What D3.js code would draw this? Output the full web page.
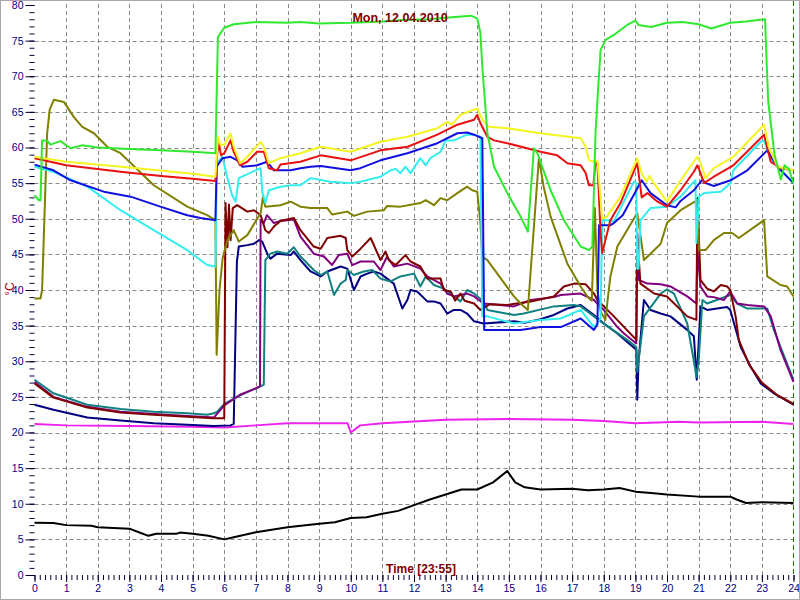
<!DOCTYPE html>
<html>
<head>
<meta charset="utf-8">
<script src="https://cdn.jsdelivr.net/npm/d3@7"></script>
<style>
  html, body { margin: 0; padding: 0; background: #ffffff; }
  svg { display: block; font-family: Arial, "Liberation Sans", sans-serif; }
</style>
</head>
<body>
<svg id="chart" width="800" height="600"></svg>
<script>
// ---------- DATA (hour, °C) ----------
const titleText = "Mon, 12.04.2010";
const xLabelText = "Time [23:55]";
const yLabelText = "°C";
const hourTicks = d3.range(0, 25);
const tempTicks = d3.range(0, 81, 5);

const outdoor = [[0,7.35],[0.6,7.3],[1,7.0],[1.8,6.9],[2,6.7],[2.5,6.6],[3,6.5],[3.3,6.0],[3.6,5.5],[3.85,5.8],[4.5,5.8],[4.6,5.95],[5,5.8],[5.5,5.5],[6,5.0],[6.3,5.3],[7,6.0],[8,6.7],[9,7.2],[9.5,7.4],[10,8.0],[10.5,8.1],[11,8.6],[11.5,9.0],[12,9.8],[12.5,10.6],[13,11.3],[13.5,12.0],[14,12.0],[14.5,13.0],[14.95,14.6],[15.2,13.0],[15.5,12.3],[16,12.0],[17,12.1],[17.5,11.9],[18,12.0],[18.5,12.2],[19,11.7],[19.5,11.5],[20,11.3],[21,11.0],[22,11.0],[22.2,10.6],[22.5,10.1],[23,10.2],[24,10.1]];

const room = [[0,21.2],[1,21.0],[3,20.9],[5,20.8],[6,20.7],[7,21.0],[8,21.3],[9.9,21.3],[10,20.0],[10.3,21.0],[11,21.3],[13,21.8],[15,21.9],[17,21.8],[18,21.6],[19,21.3],[20.4,21.5],[21,21.4],[23,21.5],[24,21.2]];

const boiler = [[0,53.3],[0.14,52.6],[0.19,52.6],[0.24,61],[0.4,61],[0.5,60.4],[0.82,60.9],[1.14,59.9],[1.5,60.3],[2,60.0],[3,59.8],[4,59.6],[5,59.4],[5.72,59.2],[5.8,75.5],[6.0,76.8],[6.3,77.3],[7,77.6],[8,77.5],[8.4,77.6],[9,77.4],[10,77.5],[11,77.7],[11.6,77.9],[12.5,78],[13,78.2],[13.8,78.5],[14.0,78.1],[14.1,76.1],[14.16,71.3],[14.32,62],[14.53,57.3],[14.95,53.6],[15.37,50.3],[15.6,48.2],[15.79,59.9],[15.9,59.2],[16.32,54],[16.74,49.8],[17.27,46.1],[17.53,45.6],[17.64,46.1],[17.74,62],[17.8,66.7],[17.9,73.7],[18.06,75.1],[18.32,75.8],[18.74,77.2],[19.0,77.8],[19.1,77.2],[19.5,76.9],[20,77.5],[20.5,77.6],[21,77.3],[21.4,76.7],[22,77.5],[22.5,77.7],[23.1,78],[23.15,72],[23.2,66.5],[23.4,59],[23.6,55.5],[23.72,57.5],[23.85,57],[24,55]];

const flowYellow = [[0,58.7],[1,58.0],[3,57.2],[5,56.3],[5.72,55.9],[5.8,61.5],[5.88,60.4],[6.0,60.4],[6.2,62],[6.3,60.1],[6.5,57.8],[6.73,58.7],[7.15,60.8],[7.25,60.1],[7.41,57.8],[7.78,58.5],[8.41,59.2],[9.05,60.1],[10,59.4],[10.94,60.8],[11.79,61.5],[12.74,62.7],[13.05,63.6],[13.2,63.2],[13.47,64.6],[14.0,65.5],[14.16,63.9],[14.37,62.9],[14.95,62.7],[16,62],[17.27,61.3],[17.43,60.1],[17.53,58.2],[17.69,58],[17.8,58.2],[17.95,50],[18.1,50.3],[18.53,53.1],[19.06,58.5],[19.2,56.4],[19.35,55.2],[19.45,56],[19.55,55.2],[20,52.4],[20.43,55.4],[20.96,58.7],[21.06,57.8],[21.22,55.7],[21.48,57.1],[22.1,58.7],[23.07,63.2],[23.22,60.1],[23.49,57.3],[24,56.8]];

const flowRed = [[0,58.5],[1,57.5],[2.72,56.6],[4,56],[5,55.6],[5.72,55.3],[5.78,59.2],[5.83,60.6],[5.9,58.9],[6.0,59.2],[6.2,61],[6.3,59.4],[6.5,57.5],[6.73,58],[7.04,59.4],[7.25,59.4],[7.41,57.1],[7.67,56.8],[7.78,57.6],[8.41,58],[9.05,58.9],[10,58.2],[10.94,59.6],[11.8,60.1],[12.74,61.8],[13.37,63.2],[13.9,63.9],[14.0,64.6],[14.1,63.4],[14.32,61.5],[14.53,61],[14.95,60.6],[16,59.4],[16.53,58.9],[16.85,57.8],[17.27,57.5],[17.43,56.4],[17.53,54.7],[17.67,54.7],[17.74,57.8],[17.8,57.8],[17.9,48],[17.95,45.2],[18.21,49.8],[18.53,52.2],[19.06,57.8],[19.2,53],[19.38,53.6],[19.7,52.4],[20.0,51.7],[20.43,54],[20.85,56.6],[20.96,57.5],[21.06,56.4],[21.17,55],[21.48,55.9],[22.1,57.5],[23.07,61.8],[23.28,58],[23.59,57.1],[24,56.8]];

const flowBlue = [[0,57.6],[0.6,56.8],[1.14,55.4],[2.19,53.8],[3.04,53.1],[3.98,51.7],[4.83,50.5],[5.25,50.1],[5.72,49.8],[5.76,57.3],[5.94,58.5],[6.2,58.7],[6.41,58.2],[6.57,57.3],[7.04,57.5],[7.36,58],[7.57,56.8],[8.1,56.8],[8.41,57.1],[8.73,57.3],[9.05,57.4],[10,56.8],[10.3,57.1],[10.94,58.2],[11.79,59.2],[12.74,60.6],[13.37,62],[13.68,62.1],[13.9,61.8],[14.16,61.3],[14.22,34.4],[14.32,34.4],[15.37,34.4],[16,34.8],[16.64,34.8],[17.27,36],[17.69,34.4],[17.8,35.2],[17.85,49.1],[18.21,49.1],[18.32,49.4],[18.6,50.5],[19.2,55.4],[19.48,53.6],[20,51.9],[20.27,51.6],[20.43,52.5],[20.85,54],[21.12,55.5],[21.22,55],[21.48,54.6],[22.01,55.4],[22.54,56.8],[23.17,59.6],[23.49,57.3],[24,55]];

const flowCyan = [[0,57.3],[0.6,56.6],[1.67,54.5],[2.72,51.2],[3.77,48.4],[4.83,45.6],[5.46,43.5],[5.72,43.3],[5.77,57.8],[5.94,58.7],[6.09,55.9],[6.25,53.3],[6.36,52.4],[6.46,55.7],[7.15,57.1],[7.2,53.8],[7.3,52.2],[7.41,54],[7.78,54.5],[8.1,54.7],[8.41,54.7],[8.73,55.7],[9.36,55.2],[10,55],[10.3,55.2],[10.94,55.9],[11.26,56.8],[11.42,57],[11.57,56.4],[11.73,57.3],[11.89,56.4],[12.2,58.5],[12.37,57.5],[12.52,58.5],[12.84,59.4],[13.0,61],[13.26,61],[13.68,61.8],[13.9,61.8],[14.1,61.5],[14.16,36.3],[14.32,36.3],[15.16,35.3],[15.5,35.5],[16,35.8],[16.64,36],[17.27,37.2],[17.69,34.8],[17.9,36],[17.95,49.8],[18.1,49.8],[18.32,49.6],[18.95,55.2],[19.03,55],[19.06,43],[19.1,43],[19.16,49.8],[19.48,51.5],[20,51.7],[20.43,53.1],[20.85,55.2],[20.9,55.4],[20.93,46.6],[21.01,53.1],[21.17,53.6],[21.7,53.8],[22.01,55],[22.1,56.8],[22.96,60.8],[23.07,61],[23.28,58.5],[23.6,56.8],[24,55]];

const flowOlive = [[0,38.8],[0.19,38.8],[0.24,40],[0.4,62],[0.48,65.3],[0.61,66.7],[0.93,66.4],[1.24,64.3],[1.51,62.9],[1.88,62],[2.3,60.1],[2.72,59.2],[3.77,54.7],[4.83,51.7],[5.46,50.5],[5.72,49.8],[5.76,30.9],[5.85,40],[5.95,44.5],[6.1,47],[6.3,48.4],[6.46,46.8],[6.73,47.7],[7.15,50.8],[7.22,53],[7.3,51.7],[7.78,51.9],[8.1,52.4],[8.41,51.7],[8.73,51.5],[9.26,51.5],[9.41,50.6],[9.89,51],[10.1,50.4],[10.52,51],[11.05,51.2],[11.15,51.8],[11.57,51.7],[12.2,52.2],[12.37,52.6],[12.63,51.9],[12.84,52.9],[13.05,52.6],[13.37,53.6],[13.68,54.5],[13.84,54],[14.0,53.8],[14.1,49.4],[14.16,44.7],[14.32,44.2],[15.16,39.1],[15.37,38.1],[15.6,37.2],[15.95,58.5],[16.1,54.5],[16.32,50.3],[16.85,43.7],[17.27,40.5],[17.48,39.1],[17.62,38.5],[17.72,51.5],[17.8,40],[17.9,37],[18.05,35.8],[18.21,41.9],[18.43,46.1],[19.06,50.8],[19.15,48],[19.27,44.2],[19.48,45.1],[19.8,46.5],[20.0,49.4],[20.43,51.2],[20.96,52.6],[21.01,45.6],[21.22,45.6],[21.48,47],[21.8,48],[22.06,48],[22.27,47.3],[23.07,49.8],[23.17,41.9],[23.59,40.7],[23.8,40.5],[24,39.1]];

const returnMaroon = [[0,26.9],[0.6,24.9],[1.67,23.5],[2.72,22.8],[3.77,22.5],[4.83,22.2],[5.67,22.0],[6.0,22.0],[6.04,52.2],[6.1,46],[6.15,52],[6.2,47],[6.27,51.5],[6.41,51.9],[6.73,51],[6.94,51.2],[7.15,50.5],[7.3,48.4],[7.41,48],[7.57,48.9],[7.78,49.7],[8.2,50.1],[8.41,48.4],[8.83,46.1],[9.05,45.8],[9.26,47.3],[9.68,47.6],[9.84,47.3],[9.89,45.6],[10.05,44.7],[10.31,45.8],[10.63,47.3],[10.94,44.2],[11.1,45.4],[11.2,44.2],[11.42,43.5],[11.73,44.9],[11.89,44],[12.2,43.3],[12.42,41.6],[12.84,41.6],[12.94,40],[13.16,39.8],[13.3,38.5],[13.47,39.5],[13.6,38.5],[13.9,38.1],[14.1,37.2],[14.4,38],[14.95,37.9],[15.69,38.4],[16.42,39.1],[16.74,40.5],[17.06,40.9],[17.43,40.8],[17.69,39.5],[17.8,38.6],[18.32,36.3],[19.03,33],[19.06,47.5],[19.16,40.9],[19.59,39.5],[20,39.1],[20.64,36.3],[20.93,35.8],[20.96,52.9],[21.06,41.4],[21.27,40.2],[21.48,39.8],[21.7,40.7],[21.9,40.5],[22.0,40],[22.17,36.3],[22.27,33],[22.6,29.5],[23,27],[23.5,25.2],[24,24]];

const returnPurple = [[0,27.1],[0.6,25],[1.67,23.6],[2.72,22.9],[3.77,22.6],[4.83,22.3],[5.67,22.1],[6.0,23.8],[6.5,25.3],[7.0,26.2],[7.13,26.5],[7.15,49.8],[7.25,49.4],[7.35,50.5],[7.57,49.4],[7.78,49.7],[8.2,49.9],[8.41,47.5],[8.83,45.1],[9.15,44.7],[9.41,43.5],[9.62,44.9],[9.89,45.1],[10.05,43.5],[10.31,44],[10.73,44],[10.94,42.8],[11.15,44.7],[11.36,43.3],[11.79,43.7],[12.2,43],[12.42,41.9],[12.84,40.9],[13.05,39.5],[13.26,39.1],[13.68,39.5],[13.9,39.1],[14.2,38.1],[15.16,37.7],[15.69,38.6],[16.42,39],[16.64,39.3],[17.27,39.5],[17.69,38.6],[18.0,37.2],[18.43,34.8],[18.64,33.9],[19.03,32.5],[19.06,48],[19.11,41.4],[19.38,40.9],[19.8,40.8],[20.11,40.5],[20.64,39.1],[20.93,38.1],[20.96,45.6],[21.06,40.5],[21.27,39.1],[21.48,39],[21.8,38.6],[22.0,39.8],[22.22,38.1],[22.54,37.9],[23.07,37.7],[23.28,36.3],[23.59,31.6],[24,27.1]];

const returnTeal = [[0,27.4],[0.6,25.5],[1.67,23.9],[2.72,23.3],[3.77,22.9],[4.83,22.7],[5.46,22.5],[5.67,22.7],[5.77,22.9],[6.0,24],[6.5,25.2],[7.0,26.2],[7.25,26.7],[7.3,44.2],[7.46,45.1],[7.67,45.4],[7.99,45.1],[8.2,46],[8.41,44.7],[8.83,42.8],[9.05,42.1],[9.26,42.6],[9.47,39.3],[9.68,40.9],[9.84,41.4],[9.89,42.8],[10.1,42.1],[10.41,42.6],[10.68,42.8],[10.94,41.6],[11.26,41.2],[11.57,41.9],[12.0,42.3],[12.2,40.5],[12.37,41.9],[12.63,40.7],[12.94,40.2],[13.26,39.1],[13.47,38.4],[13.68,40],[13.9,39.5],[14.2,38.4],[14.32,37.2],[15.16,36.5],[15.47,36.7],[16.42,37.7],[17.06,37.9],[17.27,37.7],[17.69,36.3],[17.9,35.6],[18.74,33],[19.03,32],[19.06,28.5],[19.1,30],[19.27,36.3],[19.8,39.5],[20,40.1],[20.22,39.5],[20.64,35.3],[20.85,30],[20.93,27.8],[21.0,30],[21.12,38.6],[21.27,38.1],[21.7,38.8],[22.0,39.3],[22.22,38.1],[22.54,37.4],[23.17,37.4],[23.38,34.4],[23.59,32],[24,27.4]];

const returnNavy = [[0,23.9],[0.6,23.2],[1.67,22.1],[2.72,21.7],[3.77,21.3],[4.83,21.1],[5.67,20.9],[6.2,21],[6.3,21.2],[6.4,44],[6.46,46.1],[6.73,46.3],[6.94,46.5],[7.1,47],[7.2,46.8],[7.36,45.1],[7.46,44.4],[7.67,45.1],[8.1,44.9],[8.2,45.4],[8.41,44.2],[8.73,42.6],[9.05,41.9],[9.26,42.6],[9.68,43.3],[9.89,43],[10.1,40],[10.31,41.9],[10.52,42.3],[10.73,42.6],[10.94,42.3],[11.36,40.9],[11.63,37.4],[11.79,38.6],[11.89,40],[12.1,39.8],[12.42,38.4],[12.63,38.4],[12.84,38.1],[13.05,36.7],[13.26,37.2],[13.47,37.2],[13.68,36.7],[13.9,35.6],[14.2,35.3],[15.16,35.6],[15.5,35.4],[16.0,35.9],[16.42,36.5],[16.85,37.4],[17.27,37.9],[17.69,36.5],[18.0,35.3],[18.43,33.9],[19.03,31.6],[19.06,24.6],[19.1,30],[19.27,38.6],[19.48,37.2],[19.8,36.7],[20.11,36.3],[20.64,34.4],[20.85,33.5],[20.94,27.4],[21.06,37.7],[21.27,37.2],[21.9,37.6],[22.0,37.2],[22.33,32],[22.65,29.2],[22.96,26.9],[23.38,25.5],[24,23.9]];

// draw order (first = bottom)
const seriesList = [
  { data: outdoor,      color: "#000000" },
  { data: room,         color: "#ee22ee" },
  { data: returnNavy,   color: "#000080" },
  { data: returnTeal,   color: "#108080" },
  { data: returnPurple, color: "#800080" },
  { data: returnMaroon, color: "#800000" },
  { data: flowOlive,    color: "#808000" },
  { data: flowCyan,     color: "#33eef0" },
  { data: flowBlue,     color: "#1010e0" },
  { data: flowRed,      color: "#e81010" },
  { data: flowYellow,   color: "#f4f420" },
  { data: boiler,       color: "#30e830" }
];

// ---------- CHART ----------
const svg = d3.select("#chart");
const W = 800, H = 600;
const x = d3.scaleLinear().domain([0, 24]).range([34.5, 793.5]);
const y = d3.scaleLinear().domain([0, 80]).range([575, 5]);

svg.append("rect").attr("x", 0).attr("y", 0).attr("width", W).attr("height", H).attr("fill", "#ffffff");

// grid
const grid = svg.append("g").attr("stroke", "#8a8a8a").attr("stroke-width", 1).attr("stroke-dasharray", "4,3");
grid.selectAll("line.v").data(hourTicks.filter(h => h > 0 && h < 24)).enter().append("line")
  .attr("x1", d => Math.round(x(d)) + 0.5).attr("x2", d => Math.round(x(d)) + 0.5)
  .attr("y1", 4).attr("y2", 575);
grid.selectAll("line.h").data(tempTicks.filter(t => t > 0 && t < 80)).enter().append("line")
  .attr("x1", x(0)).attr("x2", x(24))
  .attr("y1", d => Math.round(y(d)) + 0.5).attr("y2", d => Math.round(y(d)) + 0.5);

// end-of-day marker
svg.append("line")
  .attr("x1", Math.round(x(24)) - 0.5).attr("x2", Math.round(x(24)) - 0.5)
  .attr("y1", 1).attr("y2", 575)
  .attr("stroke", "#008000").attr("stroke-width", 1).attr("stroke-dasharray", "5,3");

// axes
const tickColor = "#000030";
const labelColor = "#000080";
const yAxisMinor = d3.axisLeft(y).tickValues(d3.range(0, 81, 1)).tickSize(5).tickFormat("");
const yAxisMajor = d3.axisLeft(y).tickValues(tempTicks).tickSize(9).tickPadding(2);
const xAxisMinor = d3.axisBottom(x).tickValues(d3.range(0, 24 * 6 + 1).map(i => i / 6)).tickSize(5).tickFormat("");
const xAxisMajor = d3.axisBottom(x).tickValues(hourTicks).tickSize(7).tickPadding(3).tickFormat(d3.format("d"));

function styleAxis(g) {
  g.select(".domain").remove();
  g.selectAll(".tick line").attr("stroke", tickColor).attr("stroke-width", 1);
  g.selectAll(".tick text").attr("fill", labelColor).attr("font-size", "10.5px")
    .attr("font-family", "Arial, 'Liberation Sans', sans-serif");
}
svg.append("g").attr("transform", `translate(${x(0)},0)`).call(yAxisMinor).call(styleAxis);
svg.append("g").attr("transform", `translate(${x(0)},0)`).call(yAxisMajor).call(styleAxis);
svg.append("g").attr("transform", `translate(0,575)`).call(xAxisMinor).call(styleAxis);
svg.append("g").attr("transform", `translate(0,575)`).call(xAxisMajor).call(styleAxis);

// lines
const line = d3.line().x(d => x(d[0])).y(d => y(d[1])).curve(d3.curveLinear);
svg.append("g").selectAll("path").data(seriesList).enter().append("path")
  .attr("d", d => line(d.data))
  .attr("fill", "none")
  .attr("stroke", d => d.color)
  .attr("stroke-width", 2)
  .attr("stroke-linejoin", "round");

// texts
svg.append("text").attr("x", 400).attr("y", 22).attr("text-anchor", "middle")
  .attr("font-size", "12.5px").attr("font-weight", "bold").attr("fill", "#800000").text(titleText);
svg.append("text").attr("x", 421).attr("y", 573).attr("text-anchor", "middle")
  .attr("font-size", "12px").attr("font-weight", "bold").attr("fill", "#800000").text(xLabelText);
svg.append("text").attr("transform", "translate(14,289) rotate(-90)").attr("text-anchor", "middle")
  .attr("font-size", "12px").attr("fill", "#a00000").text(yLabelText);

// frame
svg.append("rect").attr("x", 0.5).attr("y", 0.5).attr("width", W - 1).attr("height", H - 1)
  .attr("fill", "none").attr("stroke", "#a8a8a8").attr("stroke-width", 1);
</script>
</body>
</html>
